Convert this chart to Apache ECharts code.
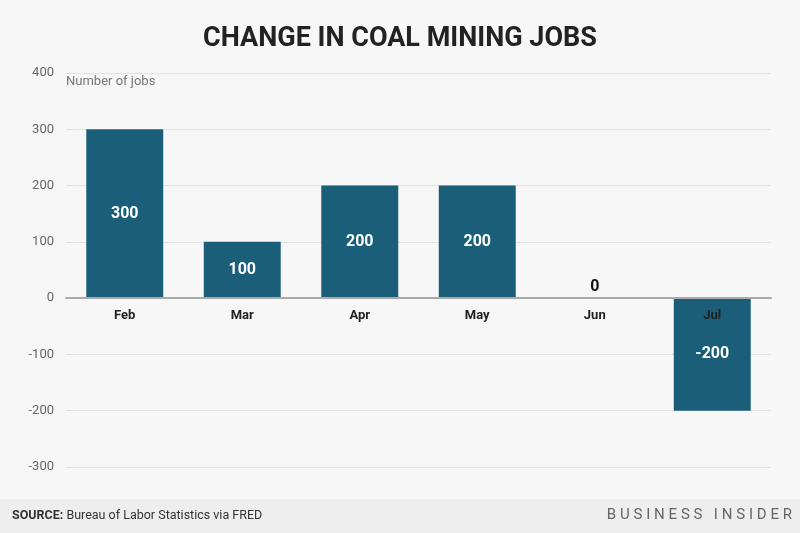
<!DOCTYPE html>
<html><head><meta charset="utf-8">
<script src="https://cdn.jsdelivr.net/npm/echarts@6/dist/echarts.min.js"></script>
<style>html,body{margin:0;padding:0;background:#f7f7f7}#c{width:800px;height:533px}</style>
</head><body><div id="c"></div>
<script>
const categories = ['Feb','Mar','Apr','May','Jun','Jul'];
const values = [300, 100, 200, 200, 0, -200];
const yTicks = [-300, -200, -100, 0, 100, 200, 300, 400];
const brand = 'BUSINESS INSIDER';

const W = 800, gridTop = 73, gridBottom = 66;
const plotH = 533 - gridTop - gridBottom;
const yMin = yTicks[0], yMax = yTicks[yTicks.length-1];
const zeroOffset = -plotH * (0 - yMin) / (yMax - yMin);

// letter-spaced brand text
const ctx = document.createElement('canvas').getContext('2d');
const brandFont = '15px Roboto';
ctx.font = brandFont;
const spacing = 3.8;
const chars = brand.split('');
const widths = chars.map(ch => ctx.measureText(ch).width);
const total = widths.reduce((a,b)=>a+b,0) + spacing*(chars.length-1);
let x = 792 - total;
const brandEls = chars.map((ch,i) => {
  const el = {type: 'text', x: x, y: 508, style: {text: ch, fill: '#666', font: brandFont}};
  x += widths[i] + spacing;
  return el;
});

const chart = echarts.init(document.getElementById('c'));
chart.setOption({
  backgroundColor: '#f7f7f7',
  animation: false,
  title: {
    text: 'CHANGE IN COAL MINING JOBS',
    left: 'center', top: 21,
    textStyle: {fontFamily: 'Roboto', fontWeight: 'bold', fontSize: 27, color: '#222'}
  },
  grid: {left: 66, right: 29, top: gridTop, bottom: gridBottom},
  xAxis: {
    type: 'category', data: categories, position: 'bottom', offset: zeroOffset,
    axisTick: {show: false},
    axisLine: {onZero: false, lineStyle: {color: '#aaaaaa', width: 2}},
    axisLabel: {color: '#222', fontWeight: 'bold', fontSize: 13, fontFamily: 'Roboto', margin: 11},
    z: 5
  },
  yAxis: {
    type: 'value', min: yMin, max: yMax, interval: 100,
    axisLine: {show: false}, axisTick: {show: false},
    axisLabel: {color: '#666', fontSize: 13, fontFamily: 'Roboto', margin: 12},
    splitLine: {lineStyle: {color: '#e2e2e2', width: 1}}
  },
  series: [{
    type: 'bar', barWidth: '65.5%',
    itemStyle: {color: '#1a5e7a'},
    data: values.map(v => v === 0 ? {value: v, label: {position: 'top', color: '#111', distance: 3}} : v),
    label: {show: true, position: 'inside', color: '#fff', fontWeight: 'bold', fontSize: 16, fontFamily: 'Roboto'}
  }],
  graphic: [
    {type: 'text', left: 66, top: 75, style: {text: 'Number of jobs', fill: '#777', font: '13px Roboto'}},
    {type: 'rect', shape: {x: 0, y: 499, width: W, height: 34}, style: {fill: '#eeeeee'}},
    {type: 'text', left: 12, top: 509, style: {
      text: '{b|SOURCE:} Bureau of Labor Statistics via FRED',
      rich: {b: {fontWeight: 'bold', fontSize: 12.5, fontFamily: 'Roboto', fill: '#333'}},
      fill: '#333', font: '12.5px Roboto'}}
  ].concat(brandEls)
});
</script></body></html>
